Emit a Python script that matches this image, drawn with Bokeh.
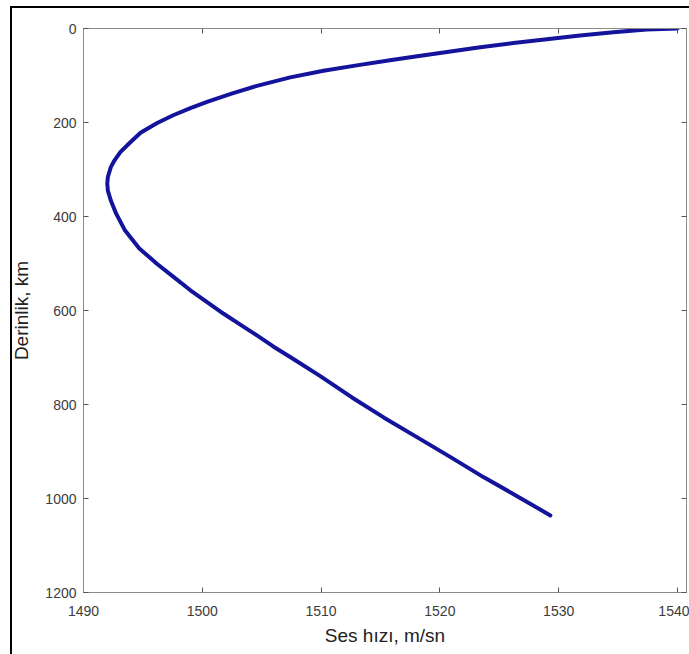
from bokeh.plotting import figure
from bokeh.models import LinearAxis, FixedTicker, Range1d, InlineStyleSheet
from bokeh.embed import file_html
from bokeh.resources import INLINE

# Sound-speed profile
depth_km = [0, 2, 8, 15, 23, 31, 40, 50, 60, 67.5, 78.5, 90, 104, 122,
            139, 156, 169.5, 184, 201, 222, 243, 263, 281, 295, 316, 330,
            345, 366, 394, 430, 468, 501, 529, 557, 582, 607, 630, 653, 677,
            699, 739, 785, 828, 870, 912, 955, 995, 1036]
speed_ms = [1540.0, 1537.4, 1534.6, 1531.8, 1529.0, 1526.2, 1523.4, 1520.6,
            1517.8, 1515.8, 1513.0, 1510.2, 1507.4, 1504.6, 1502.4, 1500.4,
            1499.0, 1497.6, 1496.2, 1494.8, 1493.9, 1493.1, 1492.6, 1492.3,
            1492.05, 1492.0, 1492.05, 1492.3, 1492.75, 1493.5, 1494.7, 1496.2,
            1497.6, 1499.0, 1500.4, 1501.8, 1503.2, 1504.6, 1506.0, 1507.4,
            1509.9, 1512.6, 1515.3, 1518.1, 1520.9, 1523.7, 1526.5, 1529.3]

x_ticks = [1490, 1500, 1510, 1520, 1530, 1540]
y_ticks = [0, 200, 400, 600, 800, 1000, 1200]
x_label = "Ses hızı, m/sn"
y_label = "Derinlik, km"

FONT = "Liberation Sans"
AXIS_COLOR = "#8c8c8c"

p = figure(width=689, height=654,
           x_range=Range1d(1490, 1540.76), y_range=Range1d(1200, 0),
           output_backend="svg", toolbar_location=None,
           min_border_left=83, min_border_right=3,
           min_border_top=28, min_border_bottom=62)
p.xgrid.visible = False
p.ygrid.visible = False
p.outline_line_color = AXIS_COLOR
p.background_fill_color = "white"
p.border_fill_color = "white"

p.line(speed_ms, depth_km, line_width=4, color="#13139c",
       line_join="round", line_cap="round")


def style(ax, ticks, labels=True):
    ax.ticker = FixedTicker(ticks=ticks)
    ax.axis_line_color = AXIS_COLOR
    ax.major_tick_line_color = "#555555"
    ax.major_tick_in = 5
    ax.major_tick_out = 0
    ax.minor_tick_line_color = None
    if labels:
        ax.major_label_text_font = FONT
        ax.major_label_text_font_size = "14px"
        ax.major_label_text_color = "#3c3c3c"
        ax.axis_label_text_font = FONT
        ax.axis_label_text_font_size = "19px"
        ax.axis_label_text_font_style = "normal"
        ax.axis_label_text_color = "#222222"
    else:
        ax.major_label_text_font_size = "0px"
        ax.major_label_text_color = None
        ax.major_label_standoff = 0


style(p.xaxis[0], x_ticks)
p.xaxis[0].axis_label = x_label
p.xaxis[0].major_label_standoff = 13
p.xaxis[0].axis_label_standoff = 6

style(p.yaxis[0], y_ticks)
p.yaxis[0].axis_label = y_label
p.yaxis[0].major_label_standoff = 7
p.yaxis[0].axis_label_standoff = 10

top_ax = LinearAxis()
style(top_ax, x_ticks, labels=False)
p.add_layout(top_ax, "above")
right_ax = LinearAxis()
style(right_ax, y_ticks, labels=False)
p.add_layout(right_ax, "right")

# outer black frame of the original figure window (left and top edges)
p.stylesheets = [InlineStyleSheet(css=(
    ":host::after { content: ''; position: absolute; left: 10px; top: 6px;"
    " width: 679px; height: 648px; box-sizing: border-box;"
    " border-left: 2px solid #000; border-top: 2px solid #000;"
    " pointer-events: none; }"))]

open("out.html", "w").write(file_html(p, INLINE))
